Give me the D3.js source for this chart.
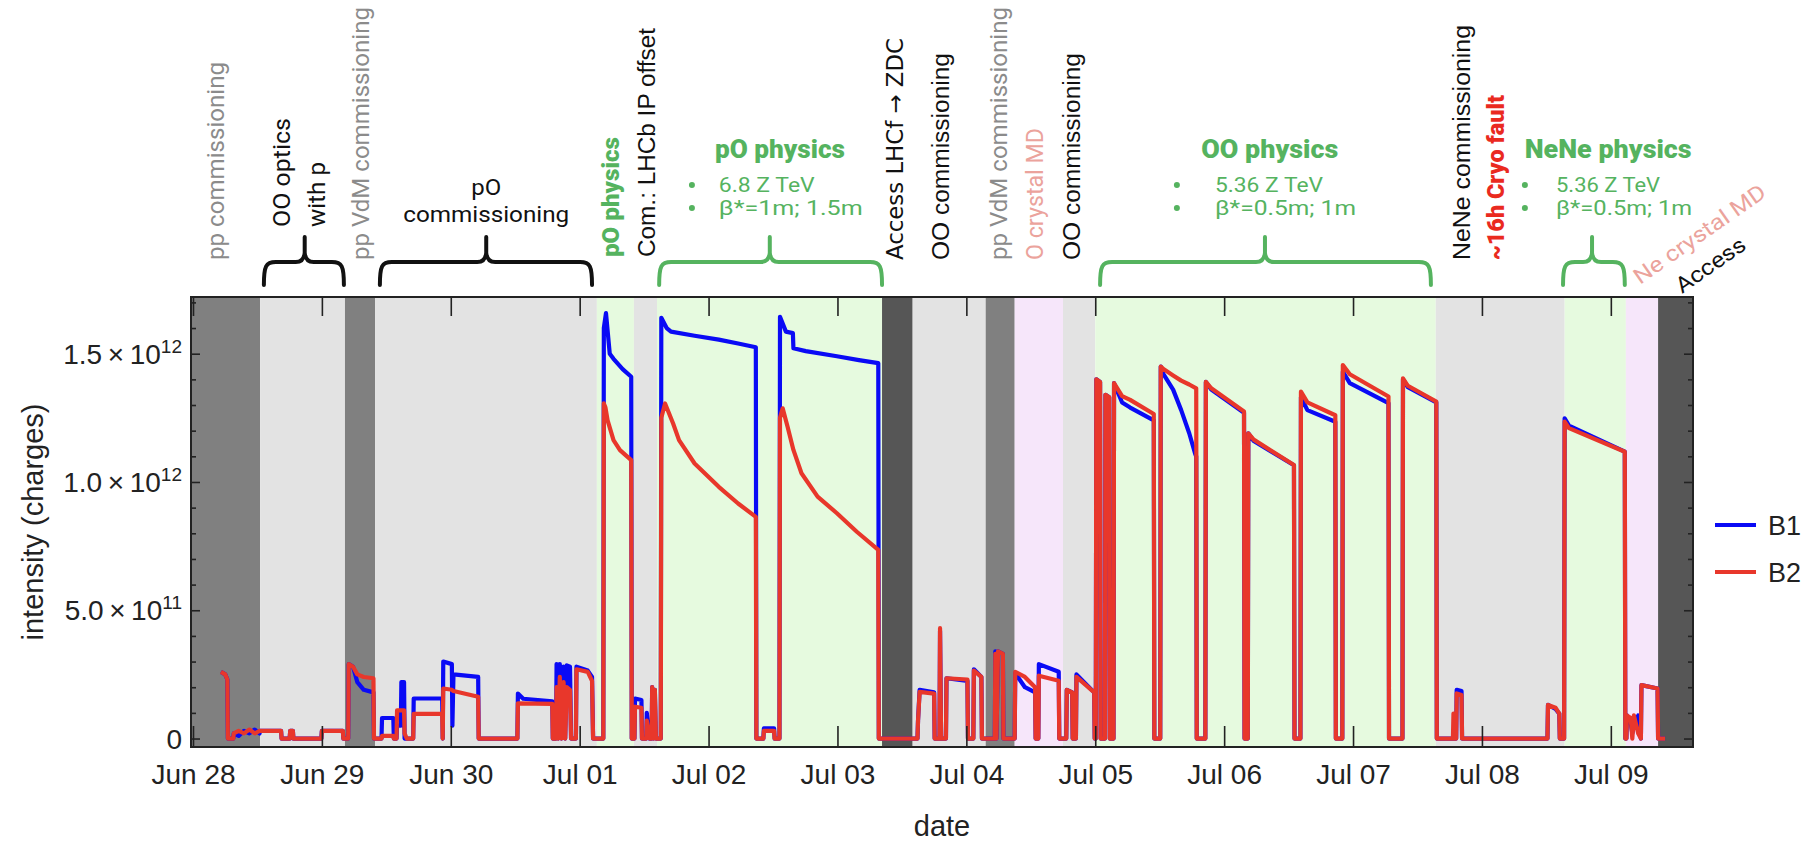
<!DOCTYPE html>
<html>
<head>
<meta charset="utf-8">
<script src="https://cdn.jsdelivr.net/npm/d3@7"></script>
<style>
  body { margin: 0; background: #fff; }
  svg { display: block; }
</style>
</head>
<body>
<div class="chart"></div>
<script>
const WIDTH = 1803;
const HEIGHT = 842;
const PLOT = {left: 191, right: 1693, top: 297, bottom: 747};

// times are hours after 2025-06-28 00:00 UTC
const BASE = Date.UTC(2025, 5, 28);
const T_MIN = -0.37;
const T_MAX = 279.3;
const toDate = (h) => new Date(BASE + h * 3600e3);

// machine-mode background bands
const BAND_START = [T_MIN, 12.5, 28.3, 33.9, 75.2, 82.1, 86.4, 128.3, 134.0, 147.6, 153.0, 162.0, 168.0, 231.4, 255.4, 266.8, 272.8];
const BAND_END   = [12.5, 28.3, 33.9, 75.2, 82.1, 86.4, 128.3, 134.0, 147.6, 153.0, 162.0, 168.0, 231.4, 255.4, 266.8, 272.8, T_MAX];
const BAND_KIND  = ["pp", "com", "pp", "com", "phys", "com", "phys", "access", "com", "pp", "md", "com", "phys", "com", "phys", "md", "access"];
const BAND_COLOR = {pp: "#808080", com: "#e3e3e3", phys: "#e6fadf", access: "#565656", md: "#f6e6fa"};

// y ticks, intensity in units of 1e12 charges
const Y_MAJOR = [0, 0.5, 1.0, 1.5];
const Y_MANTISSA = ["0", "5.0", "1.0", "1.5"];
const Y_EXPONENT = ["", "11", "12", "12"];

// beam intensities [hour, 1e12 charges]
const B1 = [
  [5.2, .26], [6.0, .25], [6.4, .23], [6.5, 0], [7.5, 0], [7.6, .02], [8.5, .01], [9.5, .03], [10.5, .02], [11.5, .035],
  [12.4, .02], [12.5, .03], [16.4, .03], [16.5, 0], [18.0, 0], [18.1, .03], [18.6, .03], [18.7, 0], [23.9, 0], [24.0, .03],
  [27.9, .03], [28.0, 0], [28.9, 0], [29.0, .29], [29.8, .28], [30.6, .22], [31.8, .19], [33.6, .18], [33.7, 0],
  [35.1, 0], [35.2, .08], [37.3, .08], [37.4, 0], [37.9, 0], [38.0, .05], [38.7, .05], [38.8, .22], [39.3, .22], [39.4, 0],
  [41.0, 0], [41.1, .156], [46.4, .156], [46.5, 0], [46.6, .30], [48.2, .29], [48.3, .05], [48.5, .25], [53.1, .24], [53.2, 0],
  [60.4, 0], [60.5, .175], [61.5, .155], [66.9, .145], [67.0, 0], [67.6, 0], [67.7, .29], [68.0, 0], [68.3, .29], [68.6, 0],
  [69.0, .28], [69.3, 0], [69.6, .285], [70.2, .28], [70.4, 0], [71.3, 0], [71.4, .28], [73.5, .265], [74.3, .24], [74.5, 0],
  [76.4, 0], [76.5, 1.60], [76.9, 1.658], [77.6, 1.50], [78.3, 1.48], [80.0, 1.44], [81.6, 1.41], [81.7, 0],
  [82.2, 0], [82.3, .156], [83.5, .15], [83.6, 0], [84.4, 0], [84.5, .10], [85.0, 0], [85.4, 0], [85.5, .2], [85.7, 0], [86.0, .19], [86.2, 0],
  [87.1, 0], [87.2, 1.64], [88.2, 1.60], [89.0, 1.586], [93.4, 1.57], [97.9, 1.555], [101.5, 1.54], [104.8, 1.525], [104.9, 0],
  [106.2, 0], [106.3, .04], [108.2, .04], [108.3, 0], [109.2, 0],
  [109.3, 1.644], [110.4, 1.586], [111.7, 1.58], [111.8, 1.521], [114.1, 1.51], [119.9, 1.49], [124.0, 1.475], [127.6, 1.463], [127.7, 0],
  [134.9, 0], [135.0, .07], [135.3, .19], [138.0, .18], [138.1, 0], [139.0, 0], [139.1, .42], [139.3, 0],
  [140.2, 0], [140.3, .235], [144.2, .225], [144.3, 0], [145.3, 0], [145.4, .27], [146.8, .24], [146.9, 0],
  [149.3, 0], [149.4, .34], [149.6, 0], [149.9, .34], [150.8, .33], [150.9, 0], [153.0, 0], [153.1, .255], [154.9, .20], [156.8, .18], [156.9, 0],
  [157.4, 0], [157.5, .29], [161.2, .26], [161.3, 0], [162.6, 0], [162.7, .19], [163.7, .18], [163.8, 0], [164.4, 0], [164.5, .25], [167.8, .18], [167.9, 0],
  [168.1, 0], [168.2, 1.40], [168.9, 1.39], [169.0, 0], [169.8, 0], [169.9, 1.34], [170.6, 1.33], [170.7, 0],
  [171.4, 0], [171.5, 1.385], [173.0, 1.31], [174.5, 1.29], [178.9, 1.24], [179.0, 0],
  [180.1, 0], [180.2, 1.45], [180.7, 1.42], [182.5, 1.36], [184.0, 1.28], [185.5, 1.19], [186.6, 1.11], [186.8, 1.10], [186.9, 0],
  [188.5, 0], [188.6, 1.39], [189.6, 1.36], [195.7, 1.27], [195.8, 0],
  [196.4, 0], [196.5, 1.19], [197.5, 1.16], [205.0, 1.065], [205.1, 0],
  [206.2, 0], [206.3, 1.33], [207.5, 1.28], [212.7, 1.235], [212.8, 0],
  [214.0, 0], [214.1, 1.43], [215.4, 1.385], [222.6, 1.307], [222.7, 0],
  [225.2, 0], [225.3, 1.40], [226.2, 1.37], [231.5, 1.31], [231.6, 0],
  [234.6, 0], [234.7, .03], [234.9, 0], [235.2, 0], [235.3, .19], [236.2, .185], [236.3, 0],
  [252.2, 0], [252.3, .131], [253.7, .115], [254.4, .097], [254.5, 0],
  [255.3, 0], [255.4, 1.248], [256.2, 1.22], [266.6, 1.118], [266.7, 0],
  [266.9, 0], [267.0, .09], [267.7, .06], [268.0, .02], [268.3, .05], [269.1, .09], [269.6, 0], [269.7, .208], [272.7, .195], [272.8, 0], [274.1, 0]
];

const B2 = [
  [5.2, .26], [6.0, .25], [6.4, .23], [6.5, 0], [7.5, 0], [7.6, .02], [8.5, .03], [9.5, .02], [10.5, .035], [11.5, .02],
  [12.4, .03], [12.5, .03], [16.4, .03], [16.5, 0], [18.0, 0], [18.1, .03], [18.6, .03], [18.7, 0], [23.9, 0], [24.0, .03],
  [27.9, .03], [28.0, 0], [28.9, 0], [29.0, .29], [29.8, .28], [30.6, .25], [31.8, .24], [33.6, .235], [33.7, 0],
  [35.1, 0], [35.2, .01], [37.3, .01], [37.4, 0], [37.9, 0], [38.0, .11], [39.3, .11], [39.4, .02], [39.8, 0],
  [41.0, 0], [41.1, .096], [46.4, .096], [46.5, 0], [46.6, .195], [48.2, .19], [48.5, .185], [53.1, .163], [53.2, 0],
  [60.4, 0], [60.5, .137], [66.9, .135], [67.0, 0], [67.6, 0], [67.7, .20], [68.0, 0], [68.3, .24], [68.6, 0],
  [69.0, .22], [69.3, 0], [69.6, .20], [70.2, .19], [70.4, 0], [71.3, 0], [71.4, .27], [73.5, .26], [74.3, .225], [74.5, 0],
  [76.4, 0], [76.5, 1.306], [76.8, 1.29], [77.2, 1.24], [78.3, 1.163], [79.5, 1.124], [81.6, 1.085], [81.7, 0],
  [82.2, 0], [82.3, .124], [83.5, .12], [83.6, 0], [84.4, 0], [84.5, .07], [85.0, 0], [85.4, 0], [85.5, .2], [85.7, 0], [86.0, .19], [86.2, 0],
  [87.1, 0], [87.2, 1.25], [87.9, 1.306], [89.4, 1.228], [90.5, 1.163], [93.4, 1.072], [97.9, .981], [101.5, .916], [104.8, .864], [104.9, 0],
  [106.2, 0], [106.3, .03], [108.2, .03], [108.3, 0], [109.2, 0],
  [109.3, 1.25], [109.8, 1.287], [110.7, 1.216], [111.8, 1.125], [113.3, 1.034], [116.3, .943], [119.9, .878], [123.6, .806], [127.6, .735], [127.7, 0],
  [134.9, 0], [135.0, .07], [135.3, .182], [138.0, .175], [138.1, 0], [139.0, 0], [139.1, .43], [139.3, 0],
  [140.2, 0], [140.3, .235], [144.2, .23], [144.3, 0], [145.3, 0], [145.4, .265], [146.8, .24], [146.9, 0],
  [149.3, 0], [149.4, .33], [149.6, 0], [149.9, .34], [150.8, .33], [150.9, 0], [153.0, 0], [153.1, .26], [154.9, .24], [156.8, .20], [156.9, 0],
  [157.4, 0], [157.5, .245], [161.2, .225], [161.3, 0], [162.6, 0], [162.7, .19], [163.7, .18], [163.8, 0], [164.4, 0], [164.5, .24], [167.8, .18], [167.9, 0],
  [168.1, 0], [168.2, 1.40], [168.9, 1.39], [169.0, 0], [169.8, 0], [169.9, 1.34], [170.6, 1.33], [170.7, 0],
  [171.4, 0], [171.5, 1.385], [173.0, 1.335], [174.5, 1.32], [178.9, 1.265], [179.0, 0],
  [180.1, 0], [180.2, 1.45], [180.7, 1.44], [182.5, 1.415], [184.0, 1.395], [185.5, 1.38], [186.8, 1.365], [186.9, 0],
  [188.5, 0], [188.6, 1.39], [189.6, 1.365], [195.7, 1.275], [195.8, 0],
  [196.4, 0], [196.5, 1.19], [197.5, 1.165], [205.0, 1.066], [205.1, 0],
  [206.2, 0], [206.3, 1.352], [207.5, 1.31], [212.7, 1.26], [212.8, 0],
  [214.0, 0], [214.1, 1.456], [215.4, 1.42], [222.6, 1.333], [222.7, 0],
  [225.2, 0], [225.3, 1.404], [226.2, 1.375], [231.5, 1.313], [231.6, 0],
  [234.6, 0], [234.7, .097], [234.9, 0], [235.2, 0], [235.3, .176], [236.2, .17], [236.3, 0],
  [252.2, 0], [252.3, .131], [253.7, .12], [254.4, .097], [254.5, 0],
  [255.3, 0], [255.4, 1.235], [256.2, 1.21], [266.6, 1.118], [266.7, 0],
  [266.9, 0], [267.0, .09], [267.7, .08], [268.0, 0], [268.3, .09], [269.1, .02], [269.6, 0], [269.7, .208], [272.7, .195], [272.8, 0], [274.1, 0]
];

const SERIES_NAMES = ["B1", "B2"];
const SERIES_COLORS = ["#0a0af5", "#e8372b"];

// annotation text above the frame
const GRAY = "#8b8b8b", BLACK = "#111", GREEN = "#55b35f", PINK = "#eba39c", RED = "#ea2a1f";
const SANS = "Roboto, 'Liberation Sans', sans-serif";
const ARIAL = "'Liberation Sans', Arial, sans-serif";

const ROT_TEXT = [
  {t: "pp commissioning", h: 4.2, y0: 260, len: 198, fill: GRAY, font: SANS},
  {t: "OO optics", h: 16.6, y0: 227, len: 109, fill: BLACK, font: SANS},
  {t: "with p", h: 23.1, y0: 227, len: 65, fill: BLACK, font: SANS},
  {t: "pp VdM commissioning", h: 31.3, y0: 260, len: 253, fill: GRAY, font: SANS},
  {t: "pO physics", h: 77.8, y0: 257, len: 120, fill: GREEN, font: SANS, bold: true},
  {t: "Com.: LHCb IP offset", h: 84.5, y0: 257, len: 229, fill: BLACK, font: ARIAL},
  {t: "Access LHCf \u2192 ZDC", h: 130.7, y0: 260, len: 222, fill: BLACK, font: "'DejaVu Sans', sans-serif"},
  {t: "OO commissioning", h: 139.3, y0: 260, len: 207, fill: BLACK, font: ARIAL},
  {t: "pp VdM commissioning", h: 150.1, y0: 260, len: 253, fill: GRAY, font: SANS},
  {t: "O crystal MD", h: 156.8, y0: 260, len: 132, fill: PINK, font: SANS},
  {t: "OO commissioning", h: 163.7, y0: 260, len: 207, fill: BLACK, font: ARIAL},
  {t: "NeNe commissioning", h: 236.3, y0: 260, len: 235, fill: BLACK, font: ARIAL},
  {t: "~16h Cryo fault", h: 242.6, y0: 260, len: 165, fill: RED, font: SANS, bold: true}
];

const BRACES = [
  {h1: 13.2, h2: 28.1, ht: 20.8, color: BLACK},
  {h1: 34.8, h2: 74.3, ht: 54.6, color: BLACK},
  {h1: 86.8, h2: 128.3, ht: 107.4, color: GREEN},
  {h1: 168.9, h2: 230.5, ht: 199.6, color: GREEN},
  {h1: 255.1, h2: 266.6, ht: 260.5, color: GREEN}
];

const PHYS_BLOCKS = [
  {title: "pO physics", hc: 109.3, tlen: 130, hb: 92.9, hx: 97.9, lines: ["6.8 Z TeV", "\u03b2*=1m; 1.5m"], lens: [96, 144]},
  {title: "OO physics", hc: 200.5, tlen: 137, hb: 183.2, hx: 190.3, lines: ["5.36 Z TeV", "\u03b2*=0.5m; 1m"], lens: [108, 141]},
  {title: "NeNe physics", hc: 263.5, tlen: 167, hb: 248.0, hx: 253.8, lines: ["5.36 Z TeV", "\u03b2*=0.5m; 1m"], lens: [104, 136]}
];

const svg = d3.select(".chart").append("svg")
  .attr("width", WIDTH)
  .attr("height", HEIGHT)
  .style("background", "#fff");

const x = d3.scaleUtc()
  .domain([toDate(T_MIN), toDate(T_MAX)])
  .range([PLOT.left, PLOT.right]);

const y = d3.scaleLinear()
  .domain([-0.033, 1.721])
  .range([PLOT.bottom, PLOT.top]);

const xh = (h) => x(toDate(h));

// background bands
svg.append("g").selectAll("rect")
  .data(BAND_KIND)
  .enter()
  .append("rect")
    .attr("x", (d, i) => xh(BAND_START[i]))
    .attr("width", (d, i) => xh(BAND_END[i]) - xh(BAND_START[i]))
    .attr("y", PLOT.top)
    .attr("height", PLOT.bottom - PLOT.top)
    .attr("fill", (d) => BAND_COLOR[d]);

// beam curves
svg.append("clipPath").attr("id", "plot-clip")
  .append("rect")
    .attr("x", PLOT.left).attr("y", PLOT.top)
    .attr("width", PLOT.right - PLOT.left).attr("height", PLOT.bottom - PLOT.top);

const line = d3.line()
  .x((d) => xh(d[0]))
  .y((d) => y(d[1]));

[B1, B2].forEach((series, i) => {
  svg.append("path")
    .datum(series)
    .attr("clip-path", "url(#plot-clip)")
    .attr("fill", "none")
    .attr("stroke", SERIES_COLORS[i])
    .attr("stroke-width", 4.2)
    .attr("stroke-linejoin", "round")
    .attr("d", line);
});

// axes
const tickFont = ARIAL;

const xBottom = svg.append("g")
  .attr("transform", "translate(0," + PLOT.bottom + ")")
  .call(d3.axisBottom(x)
    .ticks(d3.utcDay.every(1))
    .tickFormat(d3.utcFormat("%b %d"))
    .tickSizeInner(-21).tickSizeOuter(0).tickPadding(17));

svg.append("g")
  .attr("transform", "translate(0," + PLOT.top + ")")
  .call(d3.axisTop(x)
    .ticks(d3.utcDay.every(1))
    .tickFormat("")
    .tickSizeInner(-19).tickSizeOuter(0));

const yMinor = d3.range(1, 18).filter((i) => i % 5 !== 0).map((i) => i / 10);

svg.append("g")
  .attr("transform", "translate(" + PLOT.left + ",0)")
  .call(d3.axisLeft(y).tickValues(yMinor).tickFormat("").tickSizeInner(-5).tickSizeOuter(0));

svg.append("g")
  .attr("transform", "translate(" + PLOT.left + ",0)")
  .call(d3.axisLeft(y).tickValues(Y_MAJOR).tickFormat("").tickSizeInner(-9).tickSizeOuter(0));

svg.append("g")
  .attr("transform", "translate(" + PLOT.right + ",0)")
  .call(d3.axisRight(y).tickValues(yMinor).tickFormat("").tickSizeInner(-5).tickSizeOuter(0));

svg.append("g")
  .attr("transform", "translate(" + PLOT.right + ",0)")
  .call(d3.axisRight(y).tickValues(Y_MAJOR).tickFormat("").tickSizeInner(-9).tickSizeOuter(0));

svg.selectAll(".domain").remove();
svg.selectAll(".tick line").attr("stroke", "#222").attr("stroke-width", 1.6);

xBottom.selectAll("text")
  .attr("font-family", tickFont)
  .attr("font-size", 28)
  .attr("fill", "#222");

// y tick labels with exponents
const yLab = svg.append("g")
  .attr("font-family", tickFont)
  .attr("font-size", 28)
  .attr("fill", "#222")
  .attr("text-anchor", "end");

Y_MAJOR.forEach((v, i) => {
  const t = yLab.append("text")
    .attr("x", PLOT.left - 9)
    .attr("y", y(v))
    .attr("dy", "0.36em");
  if (Y_EXPONENT[i] === "") {
    t.text(Y_MANTISSA[i]);
  } else {
    t.append("tspan").text(Y_MANTISSA[i] + "\u2009\u00d7\u200910");
    t.append("tspan").attr("font-size", 19).attr("dy", -11).text(Y_EXPONENT[i]);
  }
});

// frame
svg.append("rect")
  .attr("x", PLOT.left).attr("y", PLOT.top)
  .attr("width", PLOT.right - PLOT.left).attr("height", PLOT.bottom - PLOT.top)
  .attr("fill", "none")
  .attr("stroke", "#222")
  .attr("stroke-width", 2);

// axis titles
svg.append("text")
  .attr("x", (PLOT.left + PLOT.right) / 2)
  .attr("y", 836)
  .attr("text-anchor", "middle")
  .attr("font-family", ARIAL)
  .attr("font-size", 29)
  .attr("fill", "#222")
  .text("date");

svg.append("text")
  .attr("transform", "translate(33," + (PLOT.top + PLOT.bottom) / 2 + ") rotate(-90)")
  .attr("dy", "0.36em")
  .attr("text-anchor", "middle")
  .attr("font-family", ARIAL)
  .attr("font-size", 29)
  .attr("fill", "#222")
  .text("intensity (charges)");

// legend
const legend = svg.append("g");
SERIES_NAMES.forEach((name, i) => {
  const ly = 525 + i * 47;
  legend.append("line")
    .attr("x1", 1715).attr("x2", 1756)
    .attr("y1", ly).attr("y2", ly)
    .attr("stroke", SERIES_COLORS[i])
    .attr("stroke-width", 4.2);
  legend.append("text")
    .attr("x", 1768).attr("y", ly)
    .attr("dy", "0.36em")
    .attr("font-family", ARIAL)
    .attr("font-size", 27)
    .attr("fill", "#222")
    .text(name);
});

// rotated annotations
const notes = svg.append("g");
ROT_TEXT.forEach((d) => {
  notes.append("text")
    .attr("transform", "translate(" + xh(d.h) + "," + d.y0 + ") rotate(-90)")
    .attr("dy", "0.35em")
    .attr("font-family", d.font)
    .attr("font-size", 23)
    .attr("font-weight", d.bold ? 900 : 400)
    .attr("fill", d.fill)
    .attr("textLength", d.len)
    .attr("lengthAdjust", "spacingAndGlyphs")
    .text(d.t);
});

// pO commissioning label
notes.append("text")
  .attr("x", xh(54.6)).attr("y", 195)
  .attr("text-anchor", "middle")
  .attr("font-family", SANS).attr("font-size", 22).attr("fill", BLACK)
  .attr("textLength", 30).attr("lengthAdjust", "spacingAndGlyphs")
  .text("pO");
notes.append("text")
  .attr("x", xh(54.6)).attr("y", 222)
  .attr("text-anchor", "middle")
  .attr("font-family", SANS).attr("font-size", 22).attr("fill", BLACK)
  .attr("textLength", 166).attr("lengthAdjust", "spacingAndGlyphs")
  .text("commissioning");

// physics blocks
PHYS_BLOCKS.forEach((b) => {
  notes.append("text")
    .attr("x", xh(b.hc)).attr("y", 158)
    .attr("text-anchor", "middle")
    .attr("font-family", SANS).attr("font-size", 25).attr("font-weight", 900)
    .attr("fill", GREEN)
    .attr("textLength", b.tlen).attr("lengthAdjust", "spacingAndGlyphs")
    .text(b.title);
  b.lines.forEach((s, j) => {
    const by = 192 + j * 23;
    notes.append("circle")
      .attr("cx", xh(b.hb)).attr("cy", by - 7).attr("r", 3)
      .attr("fill", GREEN);
    notes.append("text")
      .attr("x", xh(b.hx)).attr("y", by)
      .attr("font-family", SANS).attr("font-size", 19.5)
      .attr("fill", GREEN)
      .attr("textLength", b.lens[j]).attr("lengthAdjust", "spacingAndGlyphs")
      .text(s);
  });
});

// tilted notes at the right end
notes.append("text")
  .attr("transform", "translate(1640,285) rotate(-35)")
  .attr("font-family", SANS).attr("font-size", 22).attr("fill", PINK)
  .attr("textLength", 156).attr("lengthAdjust", "spacingAndGlyphs")
  .text("Ne crystal MD");
notes.append("text")
  .attr("transform", "translate(1682,294) rotate(-35)")
  .attr("font-family", SANS).attr("font-size", 22).attr("fill", BLACK)
  .attr("textLength", 80).attr("lengthAdjust", "spacingAndGlyphs")
  .text("Access");

// curly braces
function bracePath(x1, x2, xt) {
  const yl = 262, ye = 285, yt = 237;
  return "M" + x1 + "," + ye +
    " C" + x1 + "," + (yl + 4) + " " + (x1 + 2) + "," + yl + " " + (x1 + 12) + "," + yl +
    " L" + (xt - 9) + "," + yl +
    " Q" + (xt - 1) + "," + yl + " " + xt + "," + (yl - 9) +
    " L" + xt + "," + yt +
    " M" + xt + "," + (yl - 9) +
    " Q" + (xt + 1) + "," + yl + " " + (xt + 9) + "," + yl +
    " L" + (x2 - 12) + "," + yl +
    " C" + (x2 - 2) + "," + yl + " " + x2 + "," + (yl + 4) + " " + x2 + "," + ye;
}

svg.append("g").selectAll("path")
  .data(BRACES)
  .enter()
  .append("path")
    .attr("d", (d) => bracePath(xh(d.h1), xh(d.h2), xh(d.ht)))
    .attr("fill", "none")
    .attr("stroke", (d) => d.color)
    .attr("stroke-width", 4)
    .attr("stroke-linecap", "round");
</script>
</body>
</html>
